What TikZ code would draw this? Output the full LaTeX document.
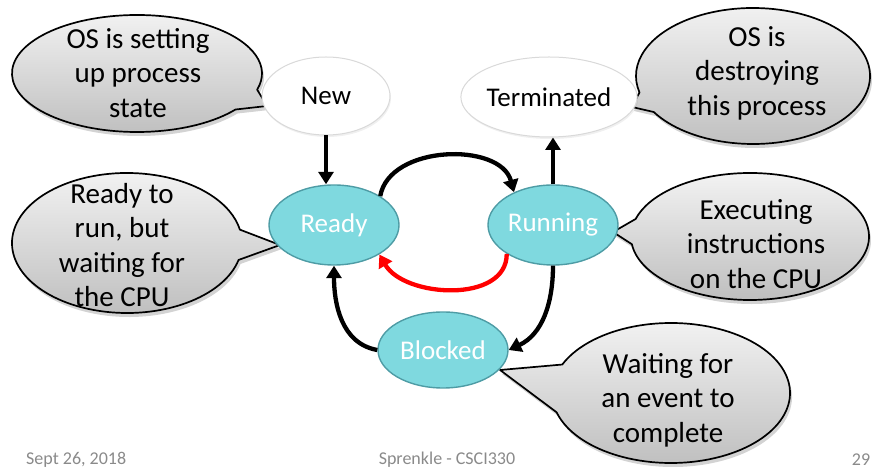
\documentclass[tikz,border=0pt]{standalone}
\usepackage{fontspec}
\setmainfont{Carlito}
\usetikzlibrary{arrows.meta,shapes.geometric,calc,shadows}

\definecolor{statefill}{HTML}{7FD9DF}
\definecolor{stateline}{HTML}{4E9CA5}
\definecolor{bubbletop}{HTML}{F4F4F4}
\definecolor{bubblebottom}{HTML}{BDBDBD}
\definecolor{footgray}{HTML}{8A8A8A}

% speech bubble: centre (#1,#2), radii #3,#4, tail base angles #5 (start) and #6,
% arc end angle #7, tail tip (#8,#9)
\newcommand{\speechbubble}[9]{%
  \shade[bubble] ($(#1,#2)+(#5:#3pt and #4pt)$) -- (#8,#9)
    -- ($(#1,#2)+(#6:#3pt and #4pt)$)
    arc[start angle=#6, end angle=#7, x radius=#3pt, y radius=#4pt] -- cycle;}

\begin{document}
\begin{tikzpicture}[x=1pt, y=1pt,
  bubble/.style={top color=bubbletop, bottom color=bubblebottom, draw=black,
    line width=1.7pt, line join=round,
    drop shadow={opacity=0.35, shadow xshift=2pt, shadow yshift=-4pt}},
  bubbletext/.style={font=\fontsize{29}{34.5}\selectfont, align=center, inner sep=0pt},
  statebox/.style={ellipse, inner sep=0pt, fill=statefill, draw=stateline,
    line width=1.4pt, text=white, font=\fontsize{27}{32}\selectfont},
  endbox/.style={ellipse, inner sep=0pt, fill=white, draw=black!15,
    line width=1pt, text=black, font=\fontsize{27}{32}\selectfont,
    drop shadow={opacity=0.12, shadow xshift=1pt, shadow yshift=-2pt}},
  flow/.style={line width=4.3pt, -{Triangle[length=12.5pt,width=15pt]}},
  foot/.style={text=footgray, font=\fontsize{18}{22}\selectfont, inner sep=0pt}]

\useasboundingbox (0,0) rectangle (873,471);

% speech bubbles
\speechbubble{137}{397.5}{125}{58.5}{344}{322}{-16}{267}{365}
\speechbubble{753}{395}{117}{68}{194}{212}{554}{632}{364}
\speechbubble{127}{228}{115}{70}{11}{346}{11}{280}{226}
\speechbubble{750}{234.5}{119}{63.5}{164}{187}{524}{613}{239}
\speechbubble{671}{78}{119}{70}{156}{196}{516}{500}{101}

\node[bubbletext] (noteNew)  at (138,398) {OS is setting\\up process\\state};
\node[bubbletext] (noteTerm) at (757,398) {OS is\\destroying\\this process};
\node[bubbletext] (noteReady) at (122,226) {Ready to\\run, but\\waiting for\\the CPU};
\node[bubbletext] (noteRun)  at (756,227) {Executing\\instructions\\on the CPU};
\node[bubbletext] (noteBlock) at (668,71) {Waiting for\\an event to\\complete};

% process states
\node[endbox, minimum width=128pt, minimum height=78pt] (new) at (326,375) {New};
\node[endbox, minimum width=174pt, minimum height=80pt] (term) at (549,374) {Terminated};
\node[statebox, minimum width=130pt, minimum height=80pt] (ready) at (334,246) {Ready};
\node[statebox, minimum width=130pt, minimum height=80pt] (running) at (553,246) {Running};
\node[statebox, minimum width=130pt, minimum height=76pt] (blocked) at (443,121) {Blocked};

% transitions
\draw[flow] (new.south) -- (new.south |- ready.north);
\draw[flow] (running.north) -- (running.north |- term.south);
\draw[flow] (ready.32) to[out=80, in=105] (running.140);
\draw[flow, red] (running.212) to[out=-90, in=-60] (ready.327);
\draw[flow] (running.south) to[out=-90, in=25] (blocked.east);
\draw[flow] (blocked.west) to[out=170, in=-90] (ready.south);

% footer
\node[foot, anchor=west] (date) at (26,11) {Sept 26, 2018};
\node[foot] (author) at (447,11) {Sprenkle - CSCI330};
\node[foot] (page) at (861,11) {29};
\end{tikzpicture}
\end{document}
